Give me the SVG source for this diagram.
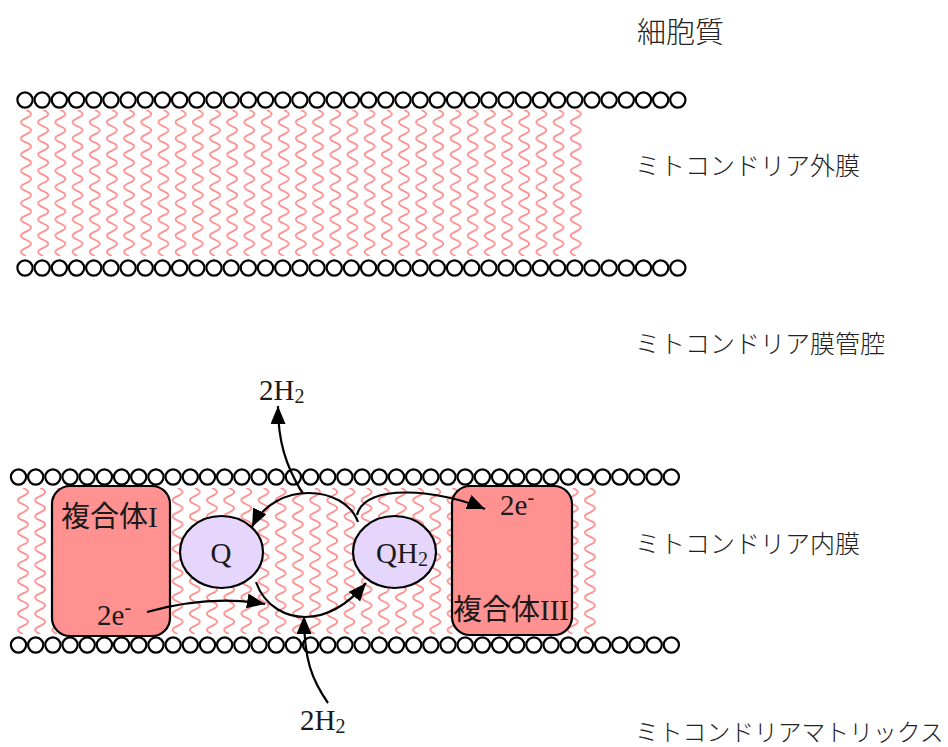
<svg xmlns="http://www.w3.org/2000/svg" xmlns:xlink="http://www.w3.org/1999/xlink" width="948" height="747" viewBox="0 0 948 747">
  <style>
    .bead { fill: #ffffff; stroke: #000000; stroke-width: 2.2; }
    .lipid { fill: none; stroke: #ff8e8e; stroke-width: 1.8; }
    .complex { fill: #ff9191; stroke: #000000; stroke-width: 2.2; }
    .carrier { fill: #e6d6fc; stroke: #000000; stroke-width: 2.2; }
    .conn { fill: none; stroke: #000000; stroke-width: 2.2; }
    .chem { font-family: "Liberation Serif", "Noto Sans CJK JP", serif; font-size: 29px; fill: #1a1a1a; }
    .region { font-family: "Noto Sans CJK JP", "Noto Sans", sans-serif; font-size: 25px; font-weight: 300; fill: #222222; }
  </style>
  <defs>
    <!-- one wavy lipid tail, 146 px long -->
    <path id="tail" class="lipid" d="M8.59,0 q10,4.055 0,8.11 t0,8.11 t0,8.11 t0,8.11 t0,8.11 t0,8.11 t0,8.11 t0,8.11 t0,8.11 t0,8.11 t0,8.11 t0,8.11 t0,8.11 t0,8.11 t0,8.11 t0,8.11 t0,8.11 t0,8.11"/>
    <pattern id="tailsOuter" patternUnits="userSpaceOnUse" x="17.41" y="110" width="17.18" height="146">
      <use xlink:href="#tail"/>
    </pattern>
    <pattern id="tailsInner" patternUnits="userSpaceOnUse" x="14.41" y="488" width="17.18" height="146">
      <use xlink:href="#tail"/>
    </pattern>
    <!-- a row of 39 phospholipid heads -->
    <g id="heads">
      <circle class="bead" cx="0" cy="0" r="7.6"/><circle class="bead" cx="17.18" cy="0" r="7.6"/><circle class="bead" cx="34.36" cy="0" r="7.6"/><circle class="bead" cx="51.54" cy="0" r="7.6"/><circle class="bead" cx="68.72" cy="0" r="7.6"/><circle class="bead" cx="85.9" cy="0" r="7.6"/><circle class="bead" cx="103.08" cy="0" r="7.6"/><circle class="bead" cx="120.26" cy="0" r="7.6"/><circle class="bead" cx="137.44" cy="0" r="7.6"/><circle class="bead" cx="154.62" cy="0" r="7.6"/>
      <circle class="bead" cx="171.8" cy="0" r="7.6"/><circle class="bead" cx="188.98" cy="0" r="7.6"/><circle class="bead" cx="206.16" cy="0" r="7.6"/><circle class="bead" cx="223.34" cy="0" r="7.6"/><circle class="bead" cx="240.52" cy="0" r="7.6"/><circle class="bead" cx="257.7" cy="0" r="7.6"/><circle class="bead" cx="274.88" cy="0" r="7.6"/><circle class="bead" cx="292.06" cy="0" r="7.6"/><circle class="bead" cx="309.24" cy="0" r="7.6"/><circle class="bead" cx="326.42" cy="0" r="7.6"/>
      <circle class="bead" cx="343.6" cy="0" r="7.6"/><circle class="bead" cx="360.78" cy="0" r="7.6"/><circle class="bead" cx="377.96" cy="0" r="7.6"/><circle class="bead" cx="395.14" cy="0" r="7.6"/><circle class="bead" cx="412.32" cy="0" r="7.6"/><circle class="bead" cx="429.5" cy="0" r="7.6"/><circle class="bead" cx="446.68" cy="0" r="7.6"/><circle class="bead" cx="463.86" cy="0" r="7.6"/><circle class="bead" cx="481.04" cy="0" r="7.6"/><circle class="bead" cx="498.22" cy="0" r="7.6"/>
      <circle class="bead" cx="515.4" cy="0" r="7.6"/><circle class="bead" cx="532.58" cy="0" r="7.6"/><circle class="bead" cx="549.76" cy="0" r="7.6"/><circle class="bead" cx="566.94" cy="0" r="7.6"/><circle class="bead" cx="584.12" cy="0" r="7.6"/><circle class="bead" cx="601.3" cy="0" r="7.6"/><circle class="bead" cx="618.48" cy="0" r="7.6"/><circle class="bead" cx="635.66" cy="0" r="7.6"/><circle class="bead" cx="652.84" cy="0" r="7.6"/>
    </g>
    <marker id="head" markerUnits="userSpaceOnUse" markerWidth="19" markerHeight="16" refX="18" refY="7.5" orient="auto">
      <path d="M0,0 L18,7.5 L0,15 z" fill="#000000"/>
    </marker>
  </defs>

  <!-- outer membrane -->
  <g id="outer-membrane">
    <rect x="17.41" y="110" width="566.94" height="146" fill="url(#tailsOuter)"/>
    <use xlink:href="#heads" x="25" y="100"/>
    <use xlink:href="#heads" x="25" y="268"/>
  </g>

  <!-- inner membrane -->
  <g id="inner-membrane">
    <rect x="14.41" y="488" width="584.12" height="146" fill="url(#tailsInner)"/>
    <use xlink:href="#heads" x="18.5" y="477"/>
    <use xlink:href="#heads" x="18.5" y="645"/>
  </g>

  <g id="complex-1">
    <rect class="complex" x="52" y="486" width="118" height="150" rx="18" ry="18"/>
    <text class="chem" x="61" y="527">複合体I</text>
    <text class="chem" x="97" y="625">2e<tspan font-size="20" dy="-11">-</tspan></text>
  </g>

  <g id="complex-3">
    <rect class="complex" x="452" y="486" width="120" height="149" rx="18" ry="18"/>
    <text class="chem" x="500" y="515">2e<tspan font-size="20" dy="-11">-</tspan></text>
    <text class="chem" x="453" y="620">複合体III</text>
  </g>

  <g id="q">
    <ellipse class="carrier" cx="221.5" cy="552" rx="41.5" ry="36"/>
    <text class="chem" x="221" y="563" text-anchor="middle">Q</text>
  </g>

  <g id="qh2">
    <ellipse class="carrier" cx="394.5" cy="552" rx="41.5" ry="36"/>
    <text class="chem" x="376" y="563">QH<tspan font-size="20" dy="3">2</tspan></text>
  </g>

  <g id="h2-out">
    <text class="chem" x="259" y="400">2H<tspan font-size="20" dy="3">2</tspan></text>
  </g>

  <g id="h2-in">
    <text class="chem" x="300" y="730">2H<tspan font-size="20" dy="3">2</tspan></text>
  </g>

  <!-- electron and proton flow -->
  <g id="connectors">
    <path class="conn" d="M358,522 C345,485 275,480 252,527" marker-end="url(#head)"/>
    <path class="conn" d="M303,494 C285,465 278,440 278,406" marker-end="url(#head)"/>
    <path class="conn" d="M357,515 C365,482 440,490 485,509" marker-end="url(#head)"/>
    <path class="conn" d="M147,612 C190,600 230,598 265,604" marker-end="url(#head)"/>
    <path class="conn" d="M256,582 C265,608 288,617 305,617 C330,617 350,602 366,583" marker-end="url(#head)"/>
    <path class="conn" d="M328,703 C312,680 304,660 304,616" marker-end="url(#head)"/>
  </g>

  <!-- compartment names -->
  <g id="labels">
    <text class="region" x="637" y="43" style="font-size:29px">細胞質</text>
    <text class="region" x="635" y="175">ミトコンドリア外膜</text>
    <text class="region" x="635" y="353">ミトコンドリア膜管腔</text>
    <text class="region" x="635" y="553">ミトコンドリア内膜</text>
    <text class="region" x="635" y="741" style="font-size:23.8px">ミトコンドリアマトリックス</text>
  </g>
</svg>
